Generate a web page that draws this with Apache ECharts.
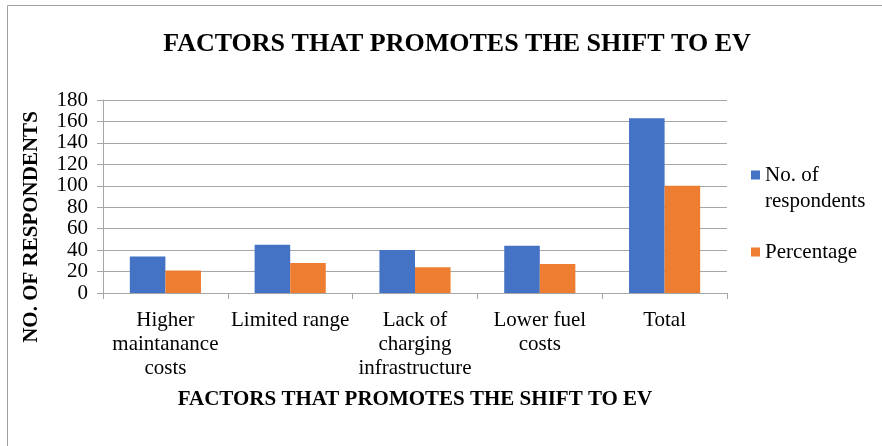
<!DOCTYPE html>
<html><head><meta charset="utf-8">
<script src="https://cdn.jsdelivr.net/npm/echarts@6/dist/echarts.min.js"></script>
<style>html,body{margin:0;padding:0;background:#fff}#c{width:882px;height:446px}</style>
</head><body><div id="c"></div>
<script>
const categories = ['Higher\nmaintanance\ncosts', 'Limited range', 'Lack of\ncharging\ninfrastructure', 'Lower fuel\ncosts', 'Total'];
const respondents = [34, 45, 40, 44, 163];
const percentage = [21, 28, 24, 27, 100];
const yTicks = {min: 0, max: 180, interval: 20};
const seriesNames = ['No. of\nrespondents', 'Percentage'];
const titleText = 'FACTORS THAT PROMOTES THE SHIFT TO EV';
const xName = 'FACTORS THAT PROMOTES THE SHIFT TO EV';
const yName = 'NO. OF RESPONDENTS';

const F = '"Liberation Serif", "Times New Roman", serif';
const chart = echarts.init(document.getElementById('c'));
chart.setOption({
  animation: false,
  backgroundColor: '#fff',
  title: {text: titleText, left: 452, top: 26, textAlign: 'center',
    textStyle: {fontFamily: F, fontSize: 26, fontWeight: 'bold', color: '#000'}},
  grid: {left: 103, right: 155, top: 100, bottom: 153},
  legend: {
    orient: 'vertical', left: 746, top: 158, itemWidth: 9, itemHeight: 9, itemGap: 53,
    icon: 'rect',
    formatter: name => name.split('\n')[0],
    textStyle: {fontFamily: F, fontSize: 21, color: '#000', lineHeight: 24}
  },
  graphic: [
    {type: 'rect', shape: {x: 7.5, y: 5.5, width: 900, height: 500}, style: {fill: 'none', stroke: '#a0a0a0', lineWidth: 1}},
    {type: 'text', x: 32, y: 227, rotation: Math.PI / 2,
      style: {text: yName, fontFamily: F, fontSize: 21, fontWeight: 'bold', fill: '#000', textAlign: 'center', textVerticalAlign: 'middle'}},
    {type: 'text', x: 765, y: 201,
      style: {text: seriesNames[0].split('\n')[1], fontFamily: F, fontSize: 21, fill: '#000', textAlign: 'left', textVerticalAlign: 'middle'}}
  ],
  xAxis: {
    type: 'category', data: categories,
    name: xName, nameLocation: 'middle', nameGap: 96,
    nameTextStyle: {fontFamily: F, fontSize: 21, fontWeight: 'bold', color: '#000'},
    axisLine: {lineStyle: {color: '#a6a6a6', width: 1}},
    axisTick: {show: true, length: 6, lineStyle: {color: '#a6a6a6'}},
    axisLabel: {fontFamily: F, fontSize: 21, color: '#000', lineHeight: 24, margin: 15, interval: 0}
  },
  yAxis: {
    type: 'value', min: yTicks.min, max: yTicks.max, interval: yTicks.interval,
    axisLine: {show: true, lineStyle: {color: '#a6a6a6', width: 1}},
    axisTick: {show: true, length: 6, lineStyle: {color: '#a6a6a6'}},
    splitLine: {lineStyle: {color: '#a6a6a6', width: 1}},
    axisLabel: {fontFamily: F, fontSize: 21, color: '#000', margin: 15}
  },
  series: [
    {name: seriesNames[0], type: 'bar', data: respondents, itemStyle: {color: '#4472c4'}, barGap: '0%', barCategoryGap: '43%'},
    {name: seriesNames[1], type: 'bar', data: percentage, itemStyle: {color: '#ed7d31'}}
  ]
});
</script></body></html>
